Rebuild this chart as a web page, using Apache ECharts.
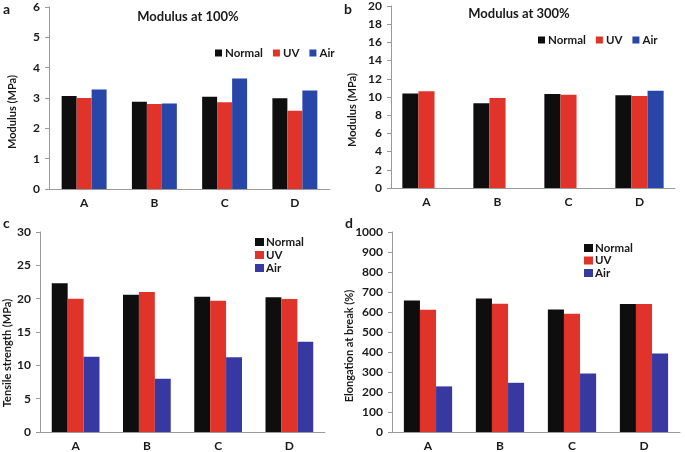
<!DOCTYPE html>
<html><head><meta charset="utf-8">
<script src="https://cdn.jsdelivr.net/npm/echarts@6/dist/echarts.min.js"></script>
<style>html,body{margin:0;padding:0;background:#fff}#c{width:685px;height:452px}</style>
</head><body><div id="c"></div>
<script>
const categories = ['A', 'B', 'C', 'D'];
const seriesNames = ['Normal', 'UV', 'Air'];
// Panel a: Modulus at 100% (MPa)
const mod100Normal = [3.07, 2.88, 3.04, 2.99];
const mod100UV = [3.00, 2.80, 2.86, 2.58];
const mod100Air = [3.28, 2.82, 3.64, 3.25];
// Panel b: Modulus at 300% (MPa)
const mod300Normal = [10.38, 9.3, 10.33, 10.18];
const mod300UV = [10.64, 9.9, 10.25, 10.1];
const mod300Air = [null, null, null, 10.7];
// Panel c: Tensile strength (MPa)
const tsNormal = [22.3, 20.6, 20.3, 20.2];
const tsUV = [20.0, 21.0, 19.7, 19.95];
const tsAir = [11.3, 8.0, 11.2, 13.55];
// Panel d: Elongation at break (%)
const ebNormal = [657, 668, 613, 640];
const ebUV = [611, 641, 591, 640];
const ebAir = [228, 246, 292, 392];

const FONT = 'Lato, "Open Sans", sans-serif';
const BLACK = '#0e0e0e', RED = '#e0332a', BLUE1 = '#2746a8', BLUE2 = '#3838a2';

const chart = echarts.init(document.getElementById('c'), null, {renderer: 'canvas'});

const grids = [
  {left: 49, right: 355, top: 7, bottom: 263},
  {left: 391, right: 10, top: 6, bottom: 264},
  {left: 40, right: 360, top: 232, bottom: 19},
  {left: 392, right: 5, top: 232, bottom: 19}
];
const yCfg = [
  {max: 6, interval: 1},
  {max: 20, interval: 2},
  {max: 30, interval: 5},
  {max: 1000, interval: 100}
];
const gaps = ['36%', '32%', '33%', '33%'];

const xAxes = grids.map((g, i) => ({
  type: 'category', gridIndex: i, data: categories,
  axisLine: {lineStyle: {color: '#9a9a9a'}},
  axisTick: {show: false},
  axisLabel: {color: '#1a1a1a', fontFamily: FONT, fontWeight: 'bold', fontSize: 12, margin: 8}
}));
const yAxes = grids.map((g, i) => ({
  type: 'value', gridIndex: i, min: 0, max: yCfg[i].max, interval: yCfg[i].interval,
  splitLine: {show: false},
  axisLine: {show: true, lineStyle: {color: '#9a9a9a'}},
  axisTick: {show: true, length: 4, lineStyle: {color: '#9a9a9a'}},
  axisLabel: {color: '#1a1a1a', fontFamily: FONT, fontWeight: 'bold', fontSize: 12, margin: 9,
    formatter: v => String(v)}
}));

function mk(name, data, color, idx) {
  return {name: name, type: 'bar', data: data, xAxisIndex: idx, yAxisIndex: idx,
    barGap: '0%', barCategoryGap: gaps[idx], itemStyle: {color: color}, silent: true};
}
const series = [
  mk('Normal', mod100Normal, BLACK, 0), mk('UV', mod100UV, RED, 0), mk('Air', mod100Air, BLUE1, 0),
  mk('Normal', mod300Normal, BLACK, 1), mk('UV', mod300UV, RED, 1), mk('Air', mod300Air, BLUE1, 1),
  mk('Normal', tsNormal, BLACK, 2), mk('UV', tsUV, RED, 2), mk('Air', tsAir, BLUE2, 2),
  mk('Normal', ebNormal, BLACK, 3), mk('UV', ebUV, RED, 3), mk('Air', ebAir, BLUE2, 3)
];

function legendH(left, top, blue) {
  return {orient: 'horizontal', left: left, top: top, itemWidth: 7, itemHeight: 7, itemGap: 10,
    icon: 'rect', selectedMode: false,
    data: [{name: 'Normal', itemStyle: {color: BLACK}}, {name: 'UV', itemStyle: {color: RED}}, {name: 'Air', itemStyle: {color: blue}}],
    textStyle: {fontFamily: FONT, fontWeight: 'bold', fontSize: 11.5, color: '#1a1a1a', padding: [0, 0, 0, -2]}};
}
function legendV(left, top, blue, gap) {
  return {orient: 'vertical', left: left, top: top, itemWidth: 9, itemHeight: 8, itemGap: gap,
    icon: 'rect', selectedMode: false,
    data: [{name: 'Normal', itemStyle: {color: BLACK}}, {name: 'UV', itemStyle: {color: RED}}, {name: 'Air', itemStyle: {color: blue}}],
    textStyle: {fontFamily: FONT, fontWeight: 'bold', fontSize: 11.5, color: '#1a1a1a', padding: [0, 0, 0, -3]}};
}

function yName(text, x, y) {
  return {type: 'text', x: x, y: y, rotation: Math.PI / 2,
    style: {text: text, font: 'bold 11px ' + FONT, fill: '#1a1a1a', align: 'center', verticalAlign: 'middle'}};
}
function letter(text, x, y) {
  return {type: 'text', x: x, y: y,
    style: {text: text, font: 'bold 14px ' + FONT, fill: '#1a1a1a', align: 'left', verticalAlign: 'middle'}};
}

chart.setOption({
  animation: false,
  backgroundColor: '#fff',
  title: [
    {text: 'Modulus at 100%', left: 183, top: 5, textAlign: 'center',
      textStyle: {fontFamily: FONT, fontWeight: 'bold', fontSize: 13, color: '#1a1a1a'}},
    {text: 'Modulus at 300%', left: 514, top: 2, textAlign: 'center',
      textStyle: {fontFamily: FONT, fontWeight: 'bold', fontSize: 13, color: '#1a1a1a'}}
  ],
  legend: [legendH(210, 42, BLUE1), legendH(533, 29, BLUE1), legendV(250, 231, BLUE2, 1), legendV(579, 237, BLUE2, 0.5)],
  grid: grids,
  xAxis: xAxes,
  yAxis: yAxes,
  series: series,
  graphic: [
    yName('Modulus (MPa)', 12, 112),
    yName('Modulus (MPa)', 352, 110),
    yName('Tensile strength (MPa)', 7, 353),
    yName('Elongation at break (%)', 349, 346),
    letter('a', 3, 9), letter('b', 344, 9), letter('c', 3, 223), letter('d', 345, 223)
  ]
});
</script></body></html>
